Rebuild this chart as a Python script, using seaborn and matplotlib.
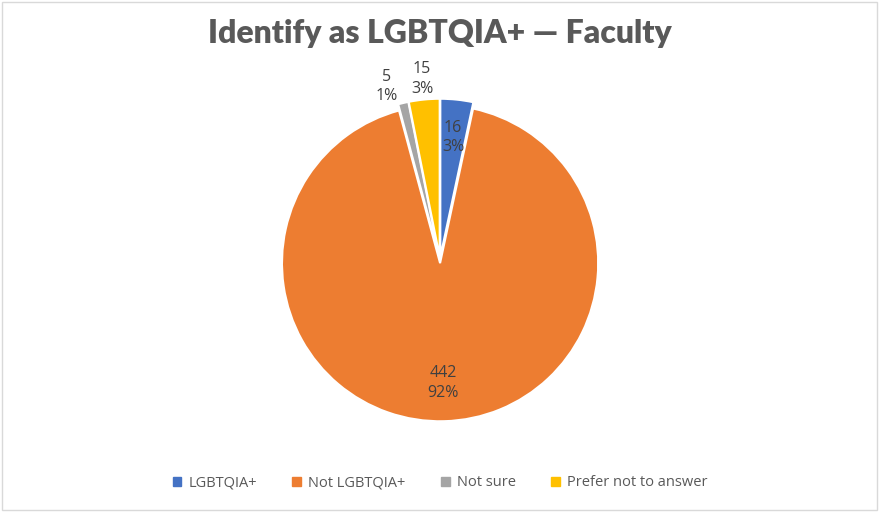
import numpy as np
import matplotlib
matplotlib.use("Agg")
import matplotlib.pyplot as plt
import seaborn as sns
from matplotlib.patches import Rectangle

# data
categories = ["LGBTQIA+", "Not LGBTQIA+", "Not sure", "Prefer not to answer"]
counts = [16, 442, 5, 15]
colors = ["#4472C4", "#ED7D31", "#A5A5A5", "#FFC000"]
title = "Identify as LGBTQIA+ \u2014 Faculty"

sns.set_theme(style="white")
plt.rcParams['font.family'] = ['Open Sans', 'DejaVu Sans']

fig = plt.figure(figsize=(8.8, 5.12), dpi=100)
fig.patches.append(Rectangle((0.002, 0.003), 0.995, 0.993, transform=fig.transFigure,
                             fill=False, edgecolor="#d9d9d9", linewidth=1))

# pie axes: centre ~ (440, 260) px, radius ~158 px
ax = fig.add_axes([(440 - 166) / 880, (512 - 426) / 512, 332 / 880, 332 / 512])
pal = sns.color_palette(colors)
wedges, _ = ax.pie(counts, colors=pal, startangle=90, counterclock=False,
                   explode=[0.02] * len(counts),
                   wedgeprops=dict(edgecolor="white", linewidth=1.5))
ax.set_aspect("equal")
ax.set_xlim(-1.05, 1.05)
ax.set_ylim(-1.05, 1.05)

# data labels: value + percent
total = sum(counts)
for w, c in zip(wedges, counts):
    ang = np.deg2rad((w.theta1 + w.theta2) / 2)
    pct = 100 * c / total
    r = 0.78 if pct > 2.5 and c != 15 else 1.15
    if c == 5:
        ang += np.deg2rad(4)
    ax.text(r * np.cos(ang), r * np.sin(ang), f"{c}\n{pct:.0f}%",
            ha="center", va="center", fontsize=11.5, color="#404040", linespacing=1.3)

fig.text(0.5, 0.935, title, ha="center", va="center", fontsize=23,
         fontweight="heavy", color="#595959", family=['Lato', 'DejaVu Sans'])

handles = [Rectangle((0, 0), 1, 1, color=c) for c in colors]
fig.legend(handles, categories, loc="center", bbox_to_anchor=(0.5, 0.057), ncol=4,
           frameon=False, fontsize=10.5, handlelength=0.6, handleheight=0.6,
           handletextpad=0.5, columnspacing=2.4, labelcolor="#595959")

fig.savefig("out.png", dpi=100)
